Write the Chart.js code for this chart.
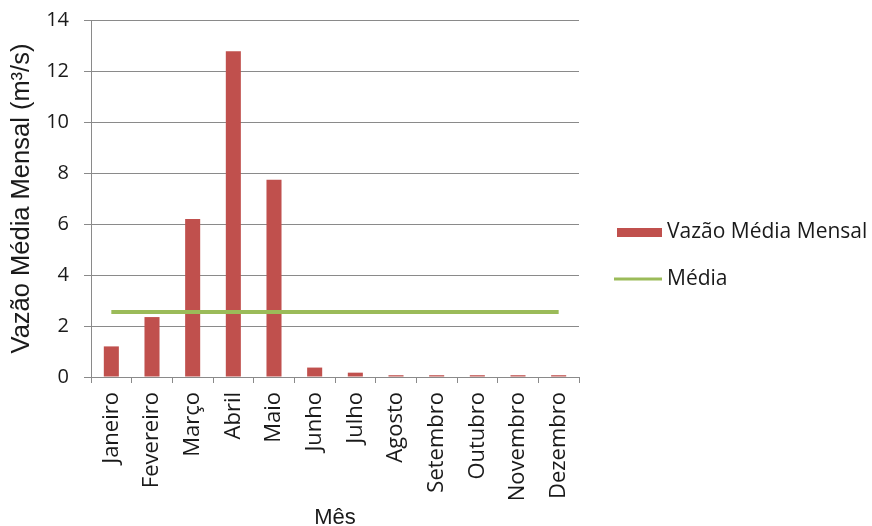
<!DOCTYPE html>
<html>
<head>
<meta charset="utf-8">
<script src="https://cdn.jsdelivr.net/npm/chart.js@4.4.1/dist/chart.umd.min.js"></script>
<style>
  html, body { margin: 0; padding: 0; background: #ffffff; }
  #wrap { width: 872px; height: 526px; }
</style>
</head>
<body>
<div id="wrap"><canvas id="c" width="872" height="526"></canvas></div>
<script>
// Monthly mean discharge (m³/s) and the overall mean
const meses = ['Janeiro', 'Fevereiro', 'Março', 'Abril', 'Maio', 'Junho', 'Julho',
               'Agosto', 'Setembro', 'Outubro', 'Novembro', 'Dezembro'];
const vazaoMensal = [1.2, 2.35, 6.2, 12.77, 7.74, 0.37, 0.17, 0.07, 0.07, 0.07, 0.07, 0.07];
const media = [2.55, 2.55, 2.55, 2.55, 2.55, 2.55, 2.55, 2.55, 2.55, 2.55, 2.55, 2.55];
const yTicks = [0, 2, 4, 6, 8, 10, 12, 14];

const FONT = '"Open Sans", "Noto Sans", sans-serif';
const TITLE_FONT = '"Liberation Sans", Arial, sans-serif';
const GRID = '#8a8a8a';
const TEXT = '#1a1a1a';

// Legend drawn at the right side of the chart
const sideLegend = {
  id: 'sideLegend',
  afterDraw(chart) {
    const ctx = chart.ctx;
    const ds = chart.data.datasets;
    ctx.save();
    ctx.font = '21px ' + FONT;
    ctx.textBaseline = 'middle';
    ctx.textAlign = 'left';
    // bar series
    ctx.fillStyle = ds[0].backgroundColor;
    ctx.fillRect(617, 228, 45, 9);
    ctx.fillStyle = TEXT;
    ctx.fillText(ds[0].label, 667, 232);
    // line series
    ctx.strokeStyle = ds[1].borderColor;
    ctx.lineWidth = 3;
    ctx.beginPath();
    ctx.moveTo(614, 279);
    ctx.lineTo(662, 279);
    ctx.stroke();
    ctx.fillText(ds[1].label, 667, 279);
    ctx.restore();
  }
};

new Chart(document.getElementById('c'), {
  type: 'bar',
  data: {
    labels: meses,
    datasets: [
      {
        type: 'bar',
        label: 'Vazão Média Mensal',
        data: vazaoMensal,
        backgroundColor: '#c0504d',
        borderWidth: 0,
        categoryPercentage: 1,
        barPercentage: 0.37,
        order: 2
      },
      {
        type: 'line',
        label: 'Média',
        data: media,
        borderColor: '#9bbb59',
        borderWidth: 4,
        pointRadius: 0,
        fill: false,
        order: 1
      }
    ]
  },
  options: {
    responsive: false,
    animation: false,
    events: [],
    layout: { padding: { top: 20, right: 293, bottom: 0, left: 0 } },
    plugins: {
      legend: { display: false },
      tooltip: { enabled: false }
    },
    scales: {
      x: {
        grid: {
          drawOnChartArea: false,
          drawTicks: true,
          tickLength: 6,
          color: GRID
        },
        border: { color: GRID, width: 1 },
        ticks: {
          color: TEXT,
          font: { family: FONT, size: 22 },
          minRotation: 90,
          maxRotation: 90,
          autoSkip: false,
          padding: 9
        },
        title: {
          display: true,
          text: 'Mês',
          color: TEXT,
          font: { family: TITLE_FONT, size: 22, lineHeight: 0.75 },
          padding: { top: 0, bottom: 0 }
        },
        afterFit(scale) {
          scale.height = 149;
          scale.paddingLeft = 0;
          scale.paddingRight = 0;
        }
      },
      y: {
        min: 0,
        max: 14,
        afterBuildTicks(scale) { scale.ticks = yTicks.map(v => ({ value: v })); },
        grid: {
          color: GRID,
          drawTicks: true,
          tickLength: 7
        },
        border: { color: GRID, width: 1 },
        ticks: {
          color: TEXT,
          font: { family: FONT, size: 20 },
          padding: 15
        },
        title: {
          display: true,
          text: 'Vazão Média Mensal (m³/s)',
          color: TEXT,
          font: { family: TITLE_FONT, size: 25.5 },
          padding: { top: 7, bottom: 0 }
        },
        afterFit(scale) {
          scale.width = 91;
          scale.paddingTop = 0;
          scale.paddingBottom = 0;
        }
      }
    }
  },
  plugins: [sideLegend]
});
</script>
</body>
</html>
